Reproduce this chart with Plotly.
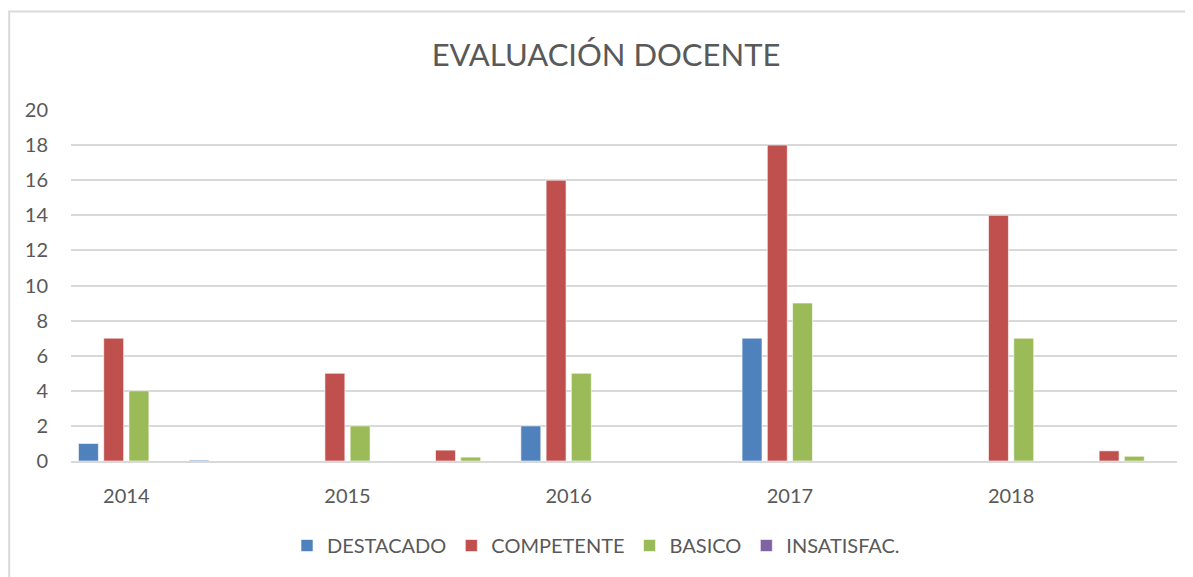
import plotly.graph_objects as go

# Categories (Excel shows only every other label)
categories = ["2014", "2014b", "2015", "2015b", "2016", "2016b", "2017", "2017b", "2018", "2018b"]
tick_categories = ["2014", "2015", "2016", "2017", "2018"]
tick_labels = ["2014", "2015", "2016", "2017", "2018"]

destacado = [1, 0.05, 0, 0, 2, 0, 7, 0, 0, 0]
competente = [7, 0, 5, 0.62, 16, 0, 18, 0, 14, 0.58]
basico = [4, 0, 2, 0.22, 5, 0, 9, 0, 7, 0.27]
insatisfac = [0, 0, 0, 0, 0, 0, 0, 0, 0, 0]

series_names = ["DESTACADO", "COMPETENTE", "BASICO", "INSATISFAC."]
series_values = [destacado, competente, basico, insatisfac]
colors = ["#4F81BD", "#C0504D", "#9BBB59", "#8064A2"]

TEXT = "#595959"
FONT = "Lato"

fig = go.Figure()
for name, vals, col in zip(series_names, series_values, colors):
    fig.add_trace(go.Bar(
        x=categories, y=vals, name=name,
        marker=dict(color=col, line=dict(color="rgba(255,255,255,0.6)", width=1)),
    ))

OFF = 8  # page body margin offset
W, H = 1193 - OFF, 577 - OFF
L, R, T, B = 71 - OFF, 16, 110 - OFF, 114
pw = W - L - R
ph = H - T - B
base = T + ph  # y of axis baseline in figure px

fig.update_layout(
    width=W, height=H,
    margin=dict(l=L, r=R, t=T, b=B),
    paper_bgcolor="white", plot_bgcolor="white",
    barmode="group", bargap=0.087, bargroupgap=0.21,
    font=dict(family=FONT, color=TEXT, size=20),
    title=dict(text="EVALUACIÓN DOCENTE", x=(606 - OFF) / W, xanchor="center",
               y=1 - (55 - OFF) / H, yanchor="middle",
               font=dict(family=FONT, size=31, color=TEXT)),
    legend=dict(orientation="h", x=(596 - OFF - L) / pw, xanchor="center",
                y=-(548 - OFF - base) / ph, yanchor="middle",
                font=dict(family=FONT, size=20, color=TEXT),
                itemwidth=30, traceorder="normal"),
    xaxis=dict(type="category", categoryorder="array", categoryarray=categories,
               tickmode="array", tickvals=tick_categories, ticktext=tick_labels,
               showgrid=False, showline=True, linecolor="#D9D9D9", linewidth=2,
               ticks="", ticklabelstandoff=16, tickfont=dict(size=20, color=TEXT),
               range=[-0.5, len(categories) - 0.5]),
    yaxis=dict(range=[0, 20], dtick=2, tick0=0, showgrid=True, gridcolor="#D9D9D9",
               gridwidth=1.5, zeroline=False, showline=False, ticks="",
               ticklabelstandoff=22, tickfont=dict(size=20, color=TEXT)),
    shapes=[dict(type="rect", xref="paper", yref="paper",
                 x0=(1.2 - L) / pw, x1=(W + 10 - L) / pw,
                 y0=-(H + 10 - base) / ph, y1=(base - (11 - OFF)) / ph,
                 line=dict(color="#D9D9D9", width=2), fillcolor="rgba(0,0,0,0)",
                 layer="below")],
)

fig.write_html("out.html")
